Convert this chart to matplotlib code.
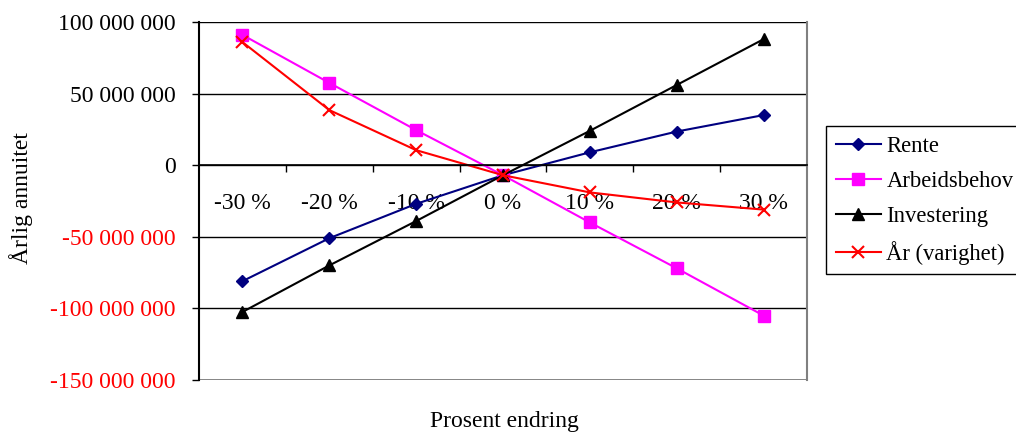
#!/usr/bin/env python3
# -*- coding: utf-8 -*-

import matplotlib
matplotlib.use('Agg')
import matplotlib.pyplot as plt
from matplotlib.ticker import FuncFormatter, FixedLocator

# kategorier (prosent endring)
kategorier = ['-30 %', '-20 %', '-10 %', '0 %', '10 %', '20 %', '30 %']

# årlig annuitet for hver parameter
rente = [-81e6, -51e6, -27e6, -7e6, 9e6, 23.5e6, 35e6]
arbeidsbehov = [91e6, 57.5e6, 24.5e6, -7e6, -40e6, -72e6, -105e6]
investering = [-102.5e6, -70e6, -39e6, -7e6, 24e6, 56e6, 88e6]
aar = [86e6, 38.5e6, 10.5e6, -7e6, -19e6, -26e6, -31e6]

y_ticks = [-150e6, -100e6, -50e6, 0, 50e6, 100e6]

plt.rcParams['font.family'] = ['Liberation Serif', 'DejaVu Serif']
plt.rcParams['font.size'] = 17


def fmt(v, pos):
    ''' Tall med mellomrom som tusenskille
    '''
    s = '{:,.0f}'.format(v).replace(',', ' ')
    return s


fig = plt.figure(figsize=(10.16, 4.32), dpi=100)
ax = fig.add_axes([199 / 1016, 1 - 380 / 432, 608 / 1016, 358 / 432])

x = list(range(len(kategorier)))

ax.plot(x, rente, '-', color='#000080', marker='D', ms=6.5, lw=1.5, label='Rente')
ax.plot(x, arbeidsbehov, '-', color='#FF00FF', marker='s', ms=8, lw=1.5, label='Arbeidsbehov')
ax.plot(x, investering, '-', color='black', marker='^', ms=9, lw=1.5, label='Investering')
ax.plot(x, aar, '-', color='#FF0000', marker='x', ms=8.5, mew=1.5, lw=1.5, label='År (varighet)')

ax.set_xlim(-0.5, len(kategorier) - 0.5)
ax.set_ylim(y_ticks[0], y_ticks[-1])

# y-akse
ax.yaxis.set_major_locator(FixedLocator(y_ticks))
ax.yaxis.set_major_formatter(FuncFormatter(fmt))
ax.tick_params(axis='y', direction='out', length=5, width=1, pad=12)
for lbl, v in zip(ax.get_yticklabels(), y_ticks):
    if v < 0:
        lbl.set_color('#FF0000')
ax.grid(True, axis='y', color='black', lw=1)
ax.set_axisbelow(True)

# x-akse krysser ved 0
ax.spines['bottom'].set_position(('data', 0))
ax.spines['bottom'].set_linewidth(1.2)
ax.spines['top'].set_visible(False)
ax.spines['right'].set_color('#808080')
ax.spines['right'].set_linewidth(1.5)
ax.spines['left'].set_linewidth(1.5)
ax.set_xticks(x)
ax.set_xticklabels(kategorier)
ax.set_xticks([i + 0.5 for i in x[:-1]], minor=True)
ax.tick_params(axis='x', which='major', length=0, pad=20)
ax.tick_params(axis='x', which='minor', direction='out', length=5, width=1)

# ramme nederst
ax.axhline(y_ticks[0], color='#808080', lw=2)

ax.set_ylabel('Årlig annuitet', va='center', ha='center', rotation_mode='default')
ax.yaxis.set_label_coords((21 - 199) / 608, (380 - 198) / 358)
ax.set_xlabel('Prosent endring', va='center', ha='center')
ax.xaxis.set_label_coords((504 - 199) / 608, (380 - 421) / 358)

leg = ax.legend(loc='upper left', bbox_to_anchor=(826 / 1016, 1 - 126 / 432),
                bbox_transform=fig.transFigure, fancybox=False, framealpha=1,
                edgecolor='black', handlelength=2.0, handletextpad=0.25,
                labelspacing=0.62, borderpad=0.42, borderaxespad=0,
                fontsize=16.3)
leg.get_frame().set_linewidth(1)

fig.savefig('out.png', dpi=100)
